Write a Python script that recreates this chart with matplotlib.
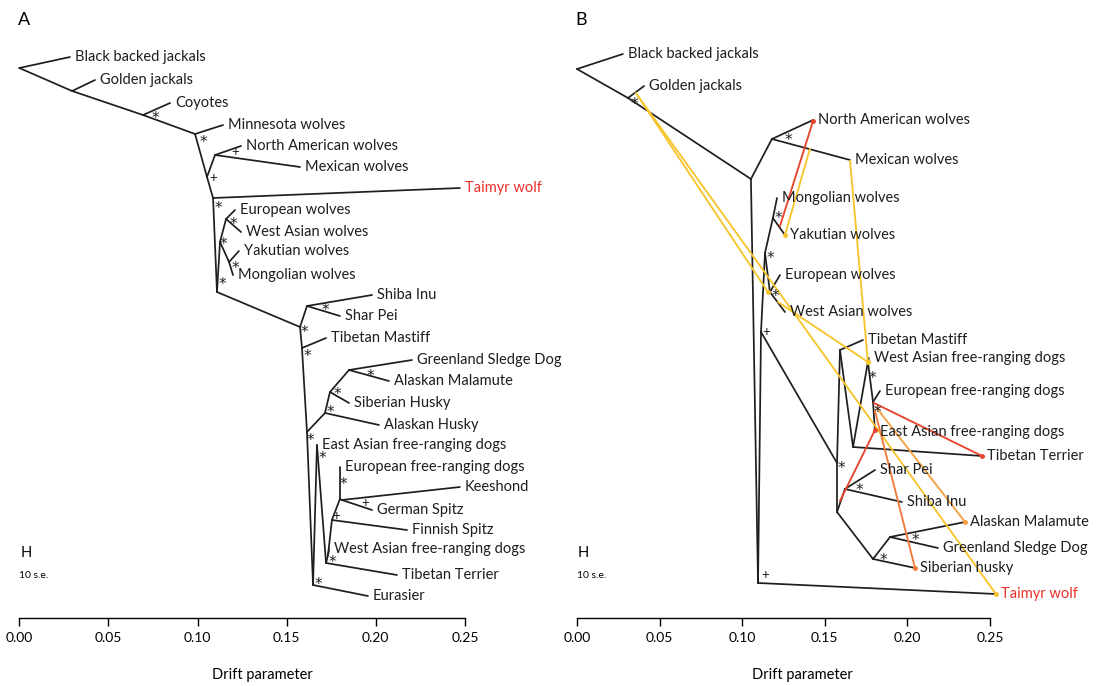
import matplotlib
matplotlib.use("Agg")
import matplotlib.pyplot as plt

plt.rcParams['font.family'] = ['Lato', 'DejaVu Sans']

TICKS = [0.00, 0.05, 0.10, 0.15, 0.20, 0.25]
TICK_LABELS = ['0.00', '0.05', '0.10', '0.15', '0.20', '0.25']

# ---- panel A: node -> (drift, row) ----
A_NODES = {
    'root': (0.000, 68), 'bbj': (0.0284, 57),
    'gjn': (0.0296, 91), 'gj': (0.0425, 80),
    'coyn': (0.0694, 115), 'coy': (0.0846, 103),
    'n1': (0.0986, 134), 'min': (0.1143, 125),
    'n2': (0.1053, 177),
    'nam': (0.1098, 155), 'naw': (0.1244, 146), 'mex': (0.1575, 167),
    'n3': (0.1087, 198), 'tai': (0.2472, 188),
    'n4': (0.1109, 292),
    'w1': (0.1126, 242),
    'ew': (0.1160, 219), 'euw': (0.1210, 210), 'waw': (0.1244, 232),
    'ym': (0.1177, 262), 'yak': (0.1232, 251), 'mon': (0.1199, 275),
    'd0': (0.1575, 327),
    'ss': (0.1614, 306), 'shi': (0.1979, 295), 'shp': (0.1799, 316),
    'tmn': (0.1586, 348), 'tm': (0.1721, 338),
    'd2': (0.1614, 432),
    'ahn': (0.1715, 413), 'ah': (0.2018, 425),
    'shn': (0.1743, 392), 'sh': (0.1850, 403),
    'gmn': (0.1850, 370), 'gsd': (0.2203, 360), 'mal': (0.2074, 381),
    'd3': (0.1648, 585), 'eur': (0.1956, 596),
    'x': (0.1670, 445),
    'y': (0.1721, 563), 'tt': (0.2119, 575),
    's': (0.1732, 555), 'wafr': (0.1738, 549),
    'r': (0.1754, 520), 'fin': (0.2175, 530),
    'q': (0.1799, 499), 'efr': (0.1799, 467),
    'kg': (0.1810, 500), 'kee': (0.2472, 487), 'ger': (0.1979, 510),
}
A_EDGES = [
    ('root', 'bbj'), ('root', 'gjn'), ('gjn', 'gj'), ('gjn', 'coyn'),
    ('coyn', 'coy'), ('coyn', 'n1'), ('n1', 'min'), ('n1', 'n2'),
    ('n2', 'nam'), ('nam', 'naw'), ('nam', 'mex'), ('n2', 'n3'),
    ('n3', 'tai'), ('n3', 'n4'), ('n4', 'w1'), ('w1', 'ew'),
    ('ew', 'euw'), ('ew', 'waw'), ('w1', 'ym'), ('ym', 'yak'),
    ('ym', 'mon'), ('n4', 'd0'), ('d0', 'ss'), ('ss', 'shi'),
    ('ss', 'shp'), ('d0', 'tmn'), ('tmn', 'tm'), ('tmn', 'd2'),
    ('d2', 'ahn'), ('ahn', 'ah'), ('ahn', 'shn'), ('shn', 'sh'),
    ('shn', 'gmn'), ('gmn', 'gsd'), ('gmn', 'mal'), ('d2', 'd3'),
    ('d3', 'eur'), ('d3', 'x'), ('x', 'y'), ('y', 'tt'), ('y', 's'),
    ('s', 'wafr'), ('s', 'r'), ('r', 'fin'), ('r', 'q'), ('q', 'efr'),
    ('q', 'kg'), ('kg', 'kee'), ('kg', 'ger'),
]
A_LEAVES = [
    ('bbj', 'Black backed jackals'), ('gj', 'Golden jackals'),
    ('coy', 'Coyotes'), ('min', 'Minnesota wolves'),
    ('naw', 'North American wolves'), ('mex', 'Mexican wolves'),
    ('tai', 'Taimyr wolf'), ('euw', 'European wolves'),
    ('waw', 'West Asian wolves'), ('yak', 'Yakutian wolves'),
    ('mon', 'Mongolian wolves'), ('shi', 'Shiba Inu'), ('shp', 'Shar Pei'),
    ('tm', 'Tibetan Mastiff'), ('gsd', 'Greenland Sledge Dog'),
    ('mal', 'Alaskan Malamute'), ('sh', 'Siberian Husky'),
    ('ah', 'Alaskan Husky'), ('x', 'East Asian free-ranging dogs'),
    ('efr', 'European free-ranging dogs'), ('kee', 'Keeshond'),
    ('ger', 'German Spitz'), ('fin', 'Finnish Spitz'),
    ('wafr', 'West Asian free-ranging dogs'), ('tt', 'Tibetan Terrier'),
    ('eur', 'Eurasier'),
]
A_SUPPORT = [
    (0.0762, 117, '*'), (0.1032, 141, '*'), (0.1211, 152, '+'),
    (0.1090, 178, '+'), (0.1115, 206, '*'), (0.1199, 222, '*'),
    (0.1143, 243, '*'), (0.1210, 267, '*'), (0.1137, 283, '*'),
    (0.1715, 309, '*'), (0.1602, 330, '*'), (0.1614, 355, '*'),
    (0.1968, 374, '*'), (0.1782, 392, '*'), (0.1743, 410, '*'),
    (0.1631, 439, '*'), (0.1698, 457, '*'), (0.1816, 482, '*'),
    (0.1940, 503, '+'), (0.1776, 516, '+'), (0.1754, 560, '*'),
    (0.1676, 582, '*'),
]

# ---- panel B ----
B_NODES = {
    'root': (0.000, 69), 'bbj': (0.0278, 54),
    'a1': (0.0309, 98), 'gj': (0.0406, 86),
    'b1': (0.1053, 179),
    'nam': (0.1180, 139), 'naw': (0.1429, 120), 'mex': (0.1653, 160),
    't': (0.1096, 583), 'tai': (0.2536, 594),
    'w0': (0.1114, 332), 'w': (0.1138, 253),
    'my': (0.1186, 218), 'mon': (0.1211, 198), 'yak': (0.1259, 235),
    'ew': (0.1168, 292), 'euw': (0.1229, 275), 'waw': (0.1259, 312),
    'dg': (0.1574, 463),
    'tmn': (0.1592, 350), 'tm': (0.1731, 340),
    'ttn': (0.1671, 447), 'tt': (0.2452, 456),
    'f1': (0.1761, 362), 'wafr': (0.1767, 358),
    'f2': (0.1792, 402), 'efr': (0.1834, 391), 'ea': (0.1804, 432),
    'as': (0.1574, 512),
    'ss': (0.1622, 489), 'shp': (0.1804, 470), 'shi': (0.1967, 502),
    'arc': (0.1792, 559), 'sib': (0.2046, 568),
    'gmn': (0.1895, 537), 'mal': (0.2349, 522), 'gsd': (0.2185, 548),
}
B_EDGES = [
    ('root', 'bbj'), ('root', 'a1'), ('a1', 'gj'), ('a1', 'b1'),
    ('b1', 'nam'), ('nam', 'naw'), ('nam', 'mex'), ('b1', 't'),
    ('t', 'tai'), ('t', 'w0'), ('w0', 'w'), ('w', 'my'), ('my', 'mon'),
    ('my', 'yak'), ('w', 'ew'), ('ew', 'euw'), ('ew', 'waw'),
    ('w0', 'dg'), ('dg', 'tmn'), ('tmn', 'tm'), ('tmn', 'ttn'),
    ('ttn', 'tt'), ('ttn', 'f1'), ('f1', 'wafr'), ('f1', 'f2'),
    ('f2', 'efr'), ('f2', 'ea'), ('dg', 'as'), ('as', 'ss'),
    ('ss', 'shp'), ('ss', 'shi'), ('as', 'arc'), ('arc', 'sib'),
    ('arc', 'gmn'), ('gmn', 'mal'), ('gmn', 'gsd'),
]
B_LEAVES = [
    ('bbj', 'Black backed jackals'), ('gj', 'Golden jackals'),
    ('naw', 'North American wolves'), ('mex', 'Mexican wolves'),
    ('mon', 'Mongolian wolves'), ('yak', 'Yakutian wolves'),
    ('euw', 'European wolves'), ('waw', 'West Asian wolves'),
    ('tm', 'Tibetan Mastiff'), ('wafr', 'West Asian free-ranging dogs'),
    ('efr', 'European free-ranging dogs'),
    ('ea', 'East Asian free-ranging dogs'), ('tt', 'Tibetan Terrier'),
    ('shp', 'Shar Pei'), ('shi', 'Shiba Inu'), ('mal', 'Alaskan Malamute'),
    ('gsd', 'Greenland Sledge Dog'), ('sib', 'Siberian husky'),
    ('tai', 'Taimyr wolf'),
]
B_SUPPORT = [
    (0.0345, 103, '*'), (0.1277, 139, '*'), (0.1219, 216, '*'),
    (0.1170, 257, '*'), (0.1199, 295, '*'), (0.1144, 332, '+'),
    (0.1138, 575, '+'), (0.1598, 466, '*'), (0.1791, 376, '*'),
    (0.1816, 411, '*'), (0.1707, 488, '*'), (0.2046, 538, '*'),
    (0.1852, 558, '*'),
]
# migration edges: source drift, source row, target drift, target row, colour
B_MIGRATION = [
    (0.1229, 226, 0.1429, 121, '#e8452c'),
    (0.1410, 149, 0.1259, 235, '#f7c52b'),
    (0.1653, 161, 0.1761, 362, '#f7c52b'),
    (0.0357, 93, 0.1156, 292, '#f7c52b'),
    (0.0369, 96, 0.2536, 594, '#f7c52b'),
    (0.1217, 302, 0.1761, 362, '#f7c52b'),
    (0.1592, 501, 0.1804, 430, '#e8452c'),
    (0.1798, 403, 0.2452, 456, '#e8452c'),
    (0.1810, 407, 0.2349, 522, '#f4a040'),
    (0.1804, 411, 0.2046, 568, '#f07a3a'),
]

TREE_COL = '#1e1e1e'
RED = '#e8312a'


def draw_panel(ax, nodes, edges, leaves, support, letter, mig=()):
    for a, b in edges:
        xa, ya = nodes[a]
        xb, yb = nodes[b]
        ax.plot([xa, xb], [ya, yb], color=TREE_COL, lw=1.25,
                solid_capstyle='round', zorder=2)
    for x0, y0, x1, y1, c in mig:
        ax.plot([x0, x1], [y0, y1], color=c, lw=1.35, zorder=3)
        ax.plot([x1], [y1], 'o', ms=2.5, color=c, zorder=4)
    for node, label in leaves:
        x, y = nodes[node]
        col = RED if label == 'Taimyr wolf' else TREE_COL
        ax.text(x + 0.0028, y, label, fontsize=10.5, color=col,
                ha='left', va='center', zorder=5)
    for x, y, s in support:
        if s == '*':
            ax.text(x, y + 2, s, fontsize=11, ha='center', va='center',
                    color=TREE_COL, family='DejaVu Sans', zorder=5)
        else:
            ax.text(x, y, s, fontsize=9.5, ha='center', va='center',
                    color=TREE_COL, zorder=5)

    ax.text(-0.001, 20, letter, fontsize=13, ha='left', va='center')
    ax.text(0.0005, 553, 'H', fontsize=10.5, ha='left', va='center')
    ax.text(0.0000, 575, '10 s.e.', fontsize=7.5, ha='left', va='center')

    ax.set_xlim(-0.005, 0.30)
    ax.set_ylim(686, 0)
    ax.set_facecolor('none')
    for side in ['top', 'right', 'left']:
        ax.spines[side].set_visible(False)
    ax.spines['bottom'].set_position(('data', 618))
    ax.spines['bottom'].set_bounds(0, 0.25)
    ax.spines['bottom'].set_linewidth(1.0)
    ax.set_xticks(TICKS, TICK_LABELS)
    ax.set_yticks([])
    ax.tick_params(axis='x', direction='out', length=5.8, width=1.0,
                   pad=4, labelsize=10)
    ax.text(0.1365, 675, 'Drift parameter', fontsize=10.5,
            ha='center', va='center')


fig = plt.figure(figsize=(11.03, 6.86), dpi=100)
axA = fig.add_axes([10.4 / 1103, 0, 543.6 / 1103, 1])
axB = fig.add_axes([568.7 / 1103, 0, 503.9 / 1103, 1])

draw_panel(axA, A_NODES, A_EDGES, A_LEAVES, A_SUPPORT, 'A')
draw_panel(axB, B_NODES, B_EDGES, B_LEAVES, B_SUPPORT, 'B', B_MIGRATION)

fig.savefig('out.png', dpi=100)
